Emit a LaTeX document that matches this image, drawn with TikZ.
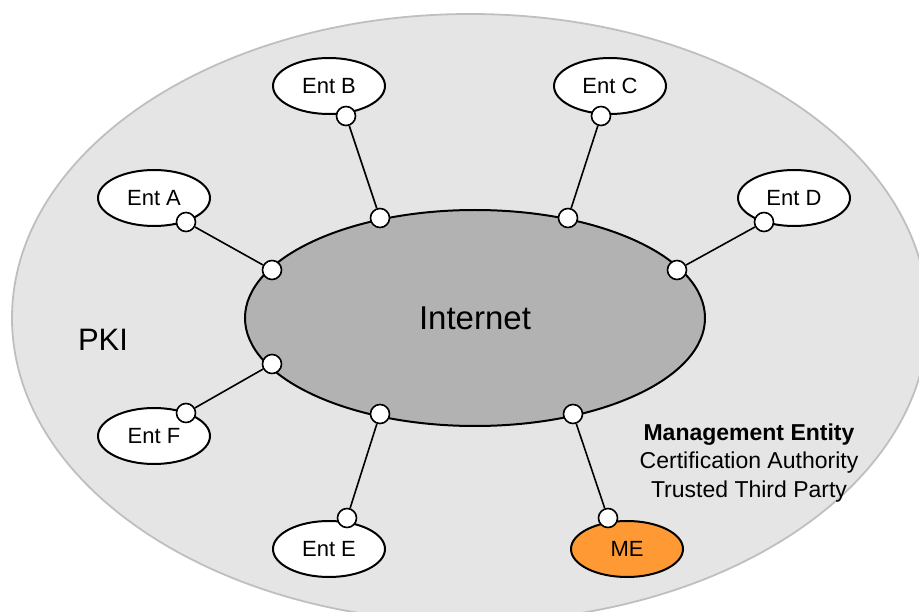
\documentclass[tikz,border=0pt]{standalone}
\usepackage{fontspec}
\setmainfont{Liberation Sans}
\usetikzlibrary{shapes.geometric, positioning}
\definecolor{meorange}{RGB}{255,153,51}

\begin{document}
\begin{tikzpicture}[x=1pt, y=-1pt,
    ent/.style={ellipse, draw, line width=2pt, fill=#1, minimum width=112pt, minimum height=56pt, inner sep=0pt, font=\fontsize{22}{26}\selectfont},
    port/.style={circle, draw, line width=1.6pt, fill=white, minimum size=19pt, inner sep=0pt},
    link/.style={line width=1.6pt}]

    \useasboundingbox (0,0) rectangle (919,612);

    % PKI domain and the Internet
    \node [ellipse, draw=black!25, line width=1.8pt, fill=black!10, minimum width=916pt, minimum height=608pt, inner sep=0pt] (pki) at (470,318) {};
    \node [font=\fontsize{31}{36}\selectfont] (pkilabel) at (103,340) {PKI};
    \node [ellipse, draw, line width=2pt, fill=black!30, minimum width=460pt, minimum height=216pt, inner sep=0pt, font=\fontsize{33}{38}\selectfont] (inet) at (475,318) {Internet};

    % entities
    \node [ent=white] (entA) at (154,198) {Ent A};
    \node [ent=white] (entB) at (329,86) {Ent B};
    \node [ent=white] (entC) at (610,86) {Ent C};
    \node [ent=white] (entD) at (794,198) {Ent D};
    \node [ent=white] (entE) at (329,549) {Ent E};
    \node [ent=white] (entF) at (154,436) {Ent F};
    \node [ent=meorange] (me) at (627,549) {ME};

    \node [align=center, font=\fontsize{23}{28.5}\selectfont] (metext) at (749,463) {\textbf{Management Entity}\\Certification Authority\\Trusted Third Party};

    % ports on the Internet
    \node [port] (ia) at (272,270) {};
    \node [port] (ib) at (380,218) {};
    \node [port] (ic) at (568,218) {};
    \node [port] (id) at (677,270) {};
    \node [port] (if) at (272,364) {};
    \node [port] (ie) at (380,414) {};
    \node [port] (im) at (573,414) {};

    % ports on the entities
    \node [port] (pa) at (186,222) {};
    \node [port] (pb) at (346,116) {};
    \node [port] (pc) at (601,116) {};
    \node [port] (pd) at (764,222) {};
    \node [port] (pf) at (186,413) {};
    \node [port] (pe) at (347,518) {};
    \node [port] (pm) at (608,518) {};

    \foreach \s in {a,b,c,d,e,f,m}
        \draw [link] (i\s) -- (p\s);
\end{tikzpicture}
\end{document}
